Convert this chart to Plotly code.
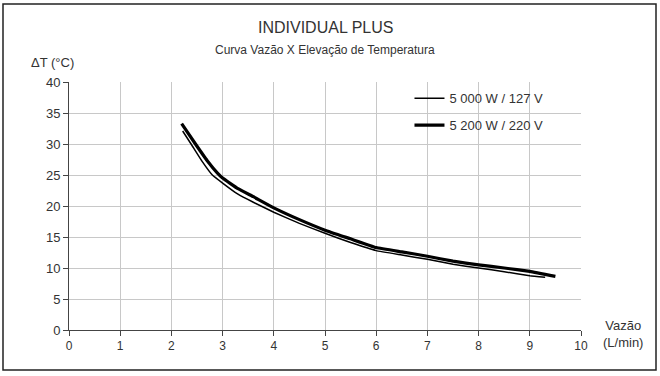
import plotly.graph_objects as go

# Data
x_127 = [2.22, 2.4, 2.6, 2.8, 3.0, 3.3, 3.6, 4.0, 4.5, 5.0, 5.5, 6.0, 6.5, 7.0, 7.5, 8.0, 8.5, 9.0, 9.3]
y_127 = [32.1, 29.8, 27.2, 25.0, 23.7, 21.9, 20.6, 19.0, 17.2, 15.6, 14.1, 12.8, 12.1, 11.4, 10.6, 10.0, 9.4, 8.75, 8.5]
x_220 = [2.2, 2.47, 2.7, 2.9, 3.0, 3.3, 3.6, 4.0, 4.5, 5.0, 5.5, 6.0, 6.5, 7.0, 7.5, 8.0, 8.5, 9.0, 9.5]
y_220 = [33.3, 30.0, 27.3, 25.3, 24.5, 22.8, 21.5, 19.7, 17.8, 16.1, 14.7, 13.3, 12.6, 11.9, 11.1, 10.5, 10.0, 9.45, 8.65]
name_127 = "5 000 W / 127 V"
name_220 = "5 200 W / 220 V"
x_ticks = list(range(0, 11))
y_ticks = list(range(0, 41, 5))

FONT = "Liberation Sans, Arial, sans-serif"
TXT = "#333333"

fig = go.Figure()
fig.add_trace(go.Scatter(x=x_127, y=y_127, mode="lines", name=name_127,
                         line=dict(color="black", width=1.5, shape="spline", smoothing=0.3),
                         legendgroup="a"))
fig.add_trace(go.Scatter(x=x_220, y=y_220, mode="lines", name=name_220,
                         line=dict(color="black", width=3.2, shape="spline", smoothing=0.3),
                         legendgroup="b"))

fig.update_layout(
    width=660, height=376,
    margin=dict(l=69, r=79, t=82, b=46),
    paper_bgcolor="white", plot_bgcolor="white",
    font=dict(family=FONT, color=TXT, size=12),
    showlegend=True,
    legend=dict(x=0.665, y=0.995, xanchor="left", yanchor="top",
                bgcolor="rgba(0,0,0,0)", font=dict(size=13, color=TXT),
                traceorder="grouped", tracegroupgap=7, itemwidth=30),
    xaxis=dict(range=[0, 10], tickvals=x_ticks, showgrid=True, gridcolor="#c8c8c8",
               showline=True, linecolor="#444", linewidth=1, ticks="outside",
               ticklen=5, tickcolor="#444", zeroline=False,
               tickfont=dict(size=12, color=TXT)),
    yaxis=dict(range=[0, 40], tickvals=y_ticks, showgrid=True, gridcolor="#c8c8c8",
               showline=True, linecolor="#444", linewidth=1, ticks="outside",
               ticklen=5, tickcolor="#444", zeroline=False,
               tickfont=dict(size=13, color=TXT)),
)

# Titles and axis labels
fig.add_annotation(text="INDIVIDUAL PLUS", xref="paper", yref="paper", x=0.5, y=(330-28)/248,
                   xanchor="center", yanchor="middle", showarrow=False,
                   font=dict(size=16, color=TXT))
fig.add_annotation(text="Curva Vazão X Elevação de Temperatura", xref="paper", yref="paper",
                   x=0.5, y=(330-50)/248, xanchor="center", yanchor="middle", showarrow=False,
                   font=dict(size=12, color=TXT))
fig.add_annotation(text="ΔT (°C)", xref="paper", yref="paper", x=(29-69)/512, y=(330-62)/248,
                   xanchor="left", yanchor="middle", showarrow=False,
                   font=dict(size=13, color=TXT))
fig.add_annotation(text="Vazão<br>(L/min)", xref="paper", yref="paper", x=(623-69)/512,
                   y=(330-334)/248, xanchor="center", yanchor="middle", showarrow=False,
                   align="center", font=dict(size=13, color=TXT))

# Outer frame
fig.add_shape(type="rect", xref="paper", yref="paper",
              x0=(3-69)/512, x1=(656-69)/512, y0=(330-370)/248, y1=(330-4)/248,
              line=dict(color="#222", width=1.5), fillcolor="rgba(0,0,0,0)", layer="below")

fig.write_html("out.html", config={"displayModeBar": False},
               post_script="document.body.style.margin='0';document.body.style.padding='0';")
